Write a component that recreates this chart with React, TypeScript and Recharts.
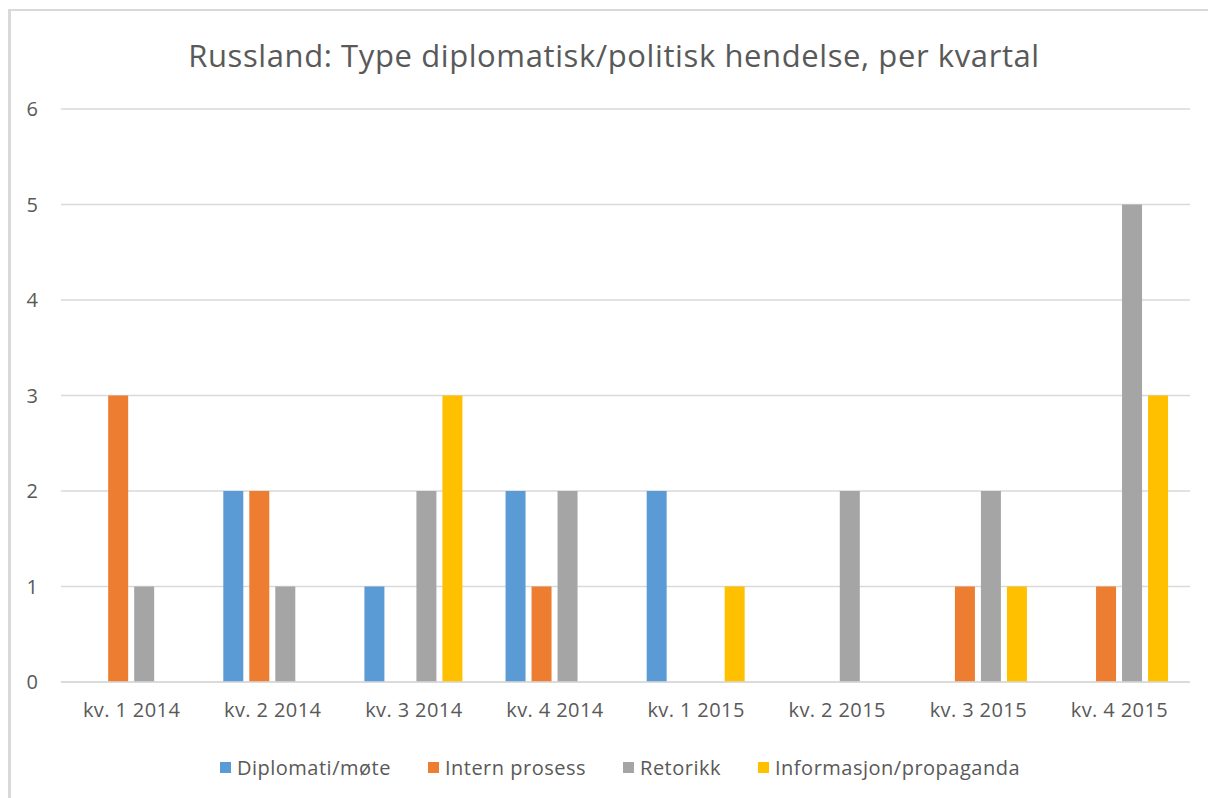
import React from 'react';
import { BarChart, Bar, XAxis, YAxis, CartesianGrid, Legend } from 'recharts';

const categories = ['kv. 1 2014', 'kv. 2 2014', 'kv. 3 2014', 'kv. 4 2014', 'kv. 1 2015', 'kv. 2 2015', 'kv. 3 2015', 'kv. 4 2015'];
const diplomati = [0, 2, 1, 2, 2, 0, 0, 0];
const intern = [3, 2, 0, 1, 0, 0, 1, 1];
const retorikk = [1, 1, 2, 2, 0, 2, 2, 5];
const informasjon = [0, 0, 3, 0, 1, 0, 1, 3];
const yTicks = [0, 1, 2, 3, 4, 5, 6];

const seriesNames = ['Diplomati/møte', 'Intern prosess', 'Retorikk', 'Informasjon/propaganda'];
const colors = ['#5B9BD5', '#ED7D31', '#A5A5A5', '#FFC000'];

const data = categories.map((c, i) => ({
  name: c,
  s0: diplomati[i],
  s1: intern[i],
  s2: retorikk[i],
  s3: informasjon[i],
}));

const FONT = '"Open Sans", sans-serif';
const TEXT = '#595959';

const renderLegend = () => (
  <div style={{ display: 'flex', justifyContent: 'center', fontFamily: FONT, fontSize: 20, letterSpacing: 0.5, color: TEXT, paddingLeft: 50 }}>
    {seriesNames.map((n, i) => (
      <div key={n} style={{ display: 'flex', alignItems: 'center', marginRight: i < 3 ? 37 : 0 }}>
        <span style={{ display: 'inline-block', width: 11, height: 11, background: colors[i], marginRight: 6 }} />
        <span>{n}</span>
      </div>
    ))}
  </div>
);

export default function App() {
  return (
    <div style={{ position: 'fixed', left: 0, top: 0, width: 1208, height: 798, background: '#fff', overflow: 'hidden' }}>
      <div style={{ position: 'absolute', left: 8, top: 9, width: 1260, height: 860, borderLeft: '3px solid #d9d9d9', borderTop: '2px solid #d9d9d9', boxSizing: 'border-box' }} />
      <div style={{ position: 'absolute', left: 0, top: 33, width: 1228, textAlign: 'center', fontFamily: FONT, fontSize: 31, letterSpacing: 0.6, color: TEXT, lineHeight: '44px' }}>
        Russland: Type diplomatisk/politisk hendelse, per kvartal
      </div>
      <div style={{ position: 'absolute', left: 0, top: 0 }}>
        <BarChart
          width={1208}
          height={798}
          data={data}
          margin={{ top: 109, right: 18, bottom: 16, left: 0 }}
          barCategoryGap="15%"
          barGap={6}
        >
          <CartesianGrid vertical={false} stroke="#d9d9d9" strokeWidth={1.5} />
          <XAxis
            dataKey="name"
            axisLine={{ stroke: '#d9d9d9', strokeWidth: 1.5 }}
            tickLine={false}
            tick={{ fill: TEXT, fontSize: 20, fontFamily: FONT, letterSpacing: 0.4 }}
            tickMargin={15}
            height={72}
            interval={0}
          />
          <YAxis
            domain={[0, 6]}
            ticks={yTicks}
            axisLine={false}
            tickLine={false}
            tick={{ fill: TEXT, fontSize: 20, fontFamily: FONT }}
            tickMargin={17}
            width={61}
            interval={0}
          />
          <Legend verticalAlign="bottom" content={renderLegend} wrapperStyle={{ height: 28 }} />
          {seriesNames.map((n, i) => (
            <Bar key={n} dataKey={`s${i}`} name={n} fill={colors[i]} isAnimationActive={false} />
          ))}
        </BarChart>
      </div>
    </div>
  );
}
